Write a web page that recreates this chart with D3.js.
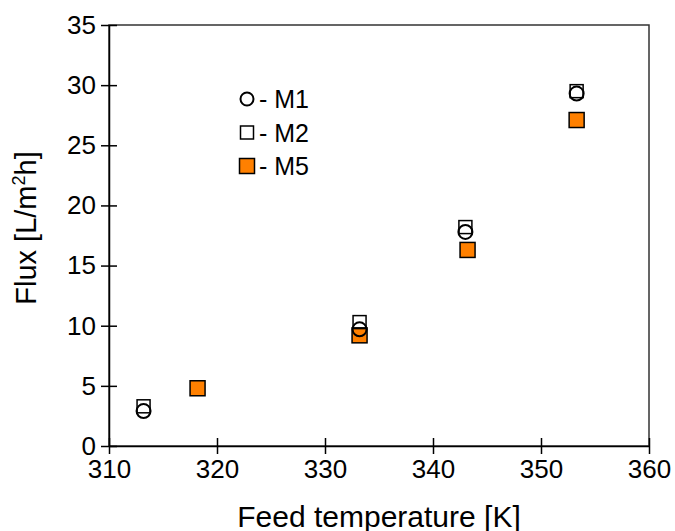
<!DOCTYPE html>
<html>
<head>
<meta charset="utf-8">
<script src="https://cdn.jsdelivr.net/npm/d3@7"></script>
<style>
  body { margin: 0; background: #fff; }
  svg { display: block; font-family: 'Liberation Sans', Arial, sans-serif; }
</style>
</head>
<body>
<div id="chart"></div>
<script>
// data
const m1Temp = [313.2, 333.2, 343.0, 353.3]
const m1Flux = [2.9, 9.7, 17.8, 29.3]
const m2Temp = [313.2, 333.2, 343.0, 353.3]
const m2Flux = [3.3, 10.3, 18.2, 29.5]
const m5Temp = [318.2, 333.2, 343.2, 353.3]
const m5Flux = [4.8, 9.2, 16.3, 27.1]
const xTicks = [310, 320, 330, 340, 350, 360]
const yTicks = [0, 5, 10, 15, 20, 25, 30, 35]
const legendNames = ['M1', 'M2', 'M5']

const width = 675
const height = 531
const margin = { left: 109, right: 26, top: 25, bottom: 85 }
const gridWidth = width - margin.left - margin.right
const gridHeight = height - margin.top - margin.bottom

const svg = d3.select('#chart')
  .append('svg')
  .attr('width', width)
  .attr('height', height)

const g = svg.append('g')
  .attr('transform', `translate(${margin.left}, ${margin.top})`)

const xScale = d3.scaleLinear().domain([310, 360]).range([0, gridWidth])
const yScale = d3.scaleLinear().domain([0, 35]).range([gridHeight, 0])

// frame (top/right)
g.append('rect')
  .attr('x', 0)
  .attr('y', 0)
  .attr('width', gridWidth)
  .attr('height', gridHeight)
  .style('fill', 'none')
  .style('stroke', '#333')
  .style('stroke-width', 1.5)

// x axis, ticks crossing the line
const xAxis = d3.axisBottom(xScale).tickValues(xTicks).tickSize(8).tickSizeOuter(0)
  .tickFormat(d => d)
const xAxisg = g.append('g')
  .attr('transform', `translate(0, ${gridHeight})`)
  .call(xAxis)
xAxisg.selectAll('.tick line').attr('y1', -8).attr('y2', 8)
xAxisg.selectAll('.tick text').attr('y', 14).style('font-size', '26px')

const yAxis = d3.axisLeft(yScale).tickValues(yTicks).tickSize(8).tickSizeOuter(0)
const yAxisg = g.append('g').call(yAxis)
yAxisg.selectAll('.tick line').attr('x1', -8).attr('x2', 8)
yAxisg.selectAll('.tick text').attr('x', -13).style('font-size', '26px')

svg.selectAll('.domain, .tick line')
  .style('stroke', '#000')
  .style('stroke-width', 1.5)
svg.selectAll('.tick text').style('fill', '#000')
svg.selectAll('g').attr('font-family', null)

// axis titles
svg.append('text')
  .attr('x', margin.left + gridWidth / 2)
  .attr('y', 527)
  .attr('text-anchor', 'middle')
  .style('font-size', '30px')
  .text('Feed temperature [K]')

const yTitle = svg.append('text')
  .attr('transform', 'translate(36, 228) rotate(-90)')
  .attr('text-anchor', 'middle')
  .style('font-size', '29px')
yTitle.append('tspan').text('Flux [L/m')
yTitle.append('tspan').text('2').attr('dy', -11).style('font-size', '18px')
yTitle.append('tspan').text('h]').attr('dy', 11)

// markers
function drawCircles(temps, flux) {
  g.append('g').selectAll('circle').data(temps).enter()
    .append('circle')
    .attr('cx', d => xScale(d))
    .attr('cy', (d, i) => yScale(flux[i]))
    .attr('r', 7)
    .style('fill', 'none')
    .style('stroke', '#000')
    .style('stroke-width', 2)
}

function drawSquares(temps, flux, size, fill) {
  g.append('g').selectAll('rect').data(temps).enter()
    .append('rect')
    .attr('x', d => xScale(d) - size / 2)
    .attr('y', (d, i) => yScale(flux[i]) - size / 2)
    .attr('width', size)
    .attr('height', size)
    .style('fill', fill)
    .style('stroke', '#000')
    .style('stroke-width', 1.5)
}

drawSquares(m5Temp, m5Flux, 15, '#ff8000')
drawSquares(m2Temp, m2Flux, 13, 'none')
drawCircles(m1Temp, m1Flux)

// legend
const legend = svg.append('g').attr('transform', 'translate(247, 99)')
legendNames.forEach((name, i) => {
  const row = legend.append('g').attr('transform', `translate(0, ${i * 33.5})`)
  if (i === 0) {
    row.append('circle').attr('r', 6.5)
      .style('fill', 'none').style('stroke', '#000').style('stroke-width', 2)
  } else {
    const s = i === 1 ? 13 : 15
    row.append('rect').attr('x', -s / 2).attr('y', -s / 2)
      .attr('width', s).attr('height', s)
      .style('fill', i === 1 ? 'none' : '#ff8000')
      .style('stroke', '#000').style('stroke-width', 1.5)
  }
  row.append('text')
    .attr('x', 12)
    .attr('dy', '0.36em')
    .style('font-size', '25px')
    .text('- ' + name)
})
</script>
</body>
</html>
